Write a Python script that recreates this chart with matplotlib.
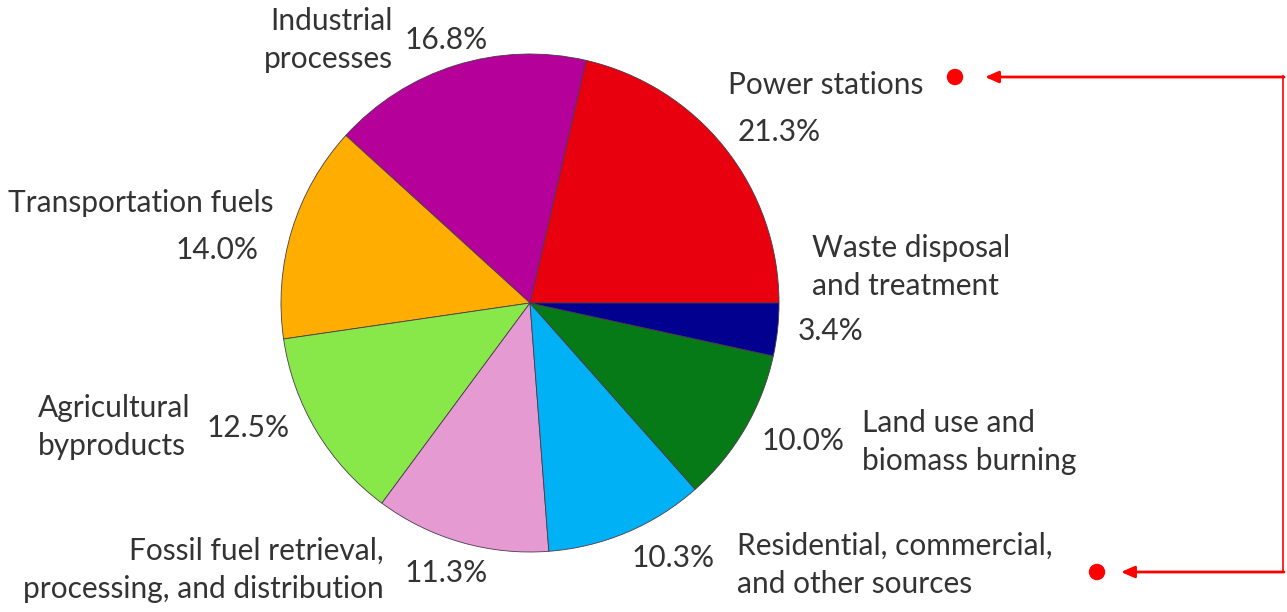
import matplotlib.pyplot as plt
from matplotlib.patches import Circle

# === data ===
sources = ['Power stations', 'Industrial\nprocesses', 'Transportation fuels',
           'Agricultural\nbyproducts', 'Fossil fuel retrieval,\nprocessing, and distribution',
           'Residential, commercial,\nand other sources', 'Land use and\nbiomass burning',
           'Waste disposal\nand treatment']
shares = [21.3, 16.8, 14.0, 12.5, 11.3, 10.3, 10.0, 3.4]
colors = ['#e8000f', '#b6009a', '#ffae00', '#88e84a', '#e69ad2', '#00b2f5', '#067a16', '#02008f']

W, H = 1287, 612


def main():
    plt.rcParams['font.family'] = ['Lato', 'DejaVu Sans']
    fig = plt.figure(figsize=(W / 100, H / 100), dpi=100)
    ax = fig.add_axes([0, 0, 1, 1])

    # pie centred at (530, 303) in picture pixels (y measured from top)
    ax.pie(shares, colors=colors, startangle=0, counterclock=True,
           center=(530, H - 303), radius=249, frame=True,
           wedgeprops=dict(edgecolor='#4a3a4a', linewidth=0.6))
    ax.set_xlim(0, W)
    ax.set_ylim(0, H)
    ax.set_aspect('equal')
    ax.axis('off')

    tc = '#333333'
    fs = 21.5

    def txt(x, y, s, ha='left'):
        ax.text(x, H - y, s, ha=ha, va='center', fontsize=fs, color=tc,
                linespacing=1.42)

    # labels and percentages
    txt(393, 40, sources[1], ha='right')
    txt(405, 40, f'{shares[1]:.1f}%')
    txt(728, 85, sources[0])
    txt(738, 132, f'{shares[0]:.1f}%')
    txt(812, 267, sources[7])
    txt(798, 331, f'{shares[7]:.1f}%')
    txt(8, 203, sources[2])
    txt(176, 250, f'{shares[2]:.1f}%')
    txt(38, 427, sources[3])
    txt(207, 428, f'{shares[3]:.1f}%')
    txt(762, 441, f'{shares[6]:.1f}%')
    txt(862, 442, sources[6])
    txt(384, 570, sources[4], ha='right')
    txt(405, 573, f'{shares[4]:.1f}%')
    txt(632, 558, f'{shares[5]:.1f}%')
    txt(737, 565, sources[5])

    # red markers and arrows on the right
    red = '#ff0000'
    ax.plot([1283, 1283], [H - 76, H - 572], color=red, lw=1.2)
    for xt, y, xd in [(985, 77, 955), (1121, 572, 1097)]:
        ax.annotate('', xy=(xt, H - y), xytext=(1284, H - y),
                    arrowprops=dict(arrowstyle='-|>,head_length=0.8,head_width=0.35',
                                    color=red, lw=2, shrinkA=0, shrinkB=0))
        ax.add_patch(Circle((xd, H - y), 7.5, color=red))

    fig.savefig('out.png', dpi=100)
    plt.close(fig)


if __name__ == '__main__':
    main()
